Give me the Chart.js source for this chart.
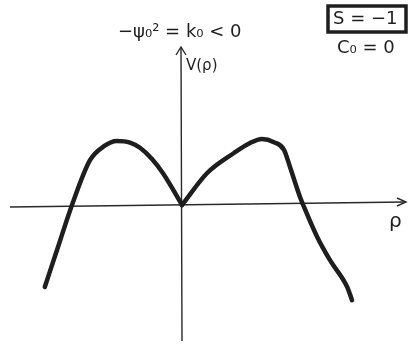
<!DOCTYPE html>
<html>
<head>
<meta charset="utf-8">
<script src="https://cdn.jsdelivr.net/npm/chart.js@4"></script>
<style>
  html, body { margin: 0; padding: 0; background: #fff; }
  #wrap { width: 412px; height: 345px; }
</style>
</head>
<body>
<div id="wrap"><canvas id="potential"></canvas></div>
<script>
// sketched potential V(rho), split at the cusp in rho = 0
const rhoLeft = [-3.43, -3.1, -2.75, -2.3, -1.95, -1.63, -1.3, -1.05, -0.75, -0.48, -0.22, 0];
const vLeft   = [-2.05, -1.05, 0, 1.12, 1.47, 1.6, 1.56, 1.43, 1.15, 0.8, 0.38, 0];
const rhoRight = [0, 0.63, 1.3, 1.7, 2.0, 2.3, 2.55, 2.7, 2.95, 3.03, 3.38, 3.7, 4.13, 4.25];
const vRight   = [0, 0.8, 1.3, 1.55, 1.65, 1.57, 1.38, 0.95, 0.2, 0, -0.8, -1.38, -2.05, -2.38];

// axis extents
const rhoAxis = [-4.3, 5.6];
const vAxis = [-3.4, 3.95];

const toPoints = (xs, ys) => xs.map((x, i) => ({ x: x, y: ys[i] }));

const ink = '#1e1e1e';

const sketchAxes = {
  id: 'sketchAxes',
  beforeDatasetsDraw(chart) {
    const c = chart.ctx;
    const x = chart.scales.x, y = chart.scales.y;
    const x0 = x.getPixelForValue(0), y0 = y.getPixelForValue(0);
    const xr = x.getPixelForValue(rhoAxis[1]), xl = x.getPixelForValue(rhoAxis[0]);
    const yt = y.getPixelForValue(vAxis[1]), yb = y.getPixelForValue(vAxis[0]);
    c.save();
    c.strokeStyle = '#2a2a2a';
    c.lineWidth = 1.4;
    c.beginPath();
    c.moveTo(xl, y0 + 2); c.lineTo(xr, y0 - 3);
    c.moveTo(x0 - 1, yt); c.lineTo(x0, yb);
    c.stroke();
    // arrow heads
    c.beginPath();
    c.moveTo(xr - 9, y0 - 7); c.lineTo(xr, y0 - 3); c.lineTo(xr - 9, y0 + 1);
    c.moveTo(x0 - 6, yt + 8); c.lineTo(x0 - 1, yt); c.lineTo(x0 + 4, yt + 8);
    c.stroke();
    c.restore();
  },
  afterDraw(chart) {
    const c = chart.ctx;
    c.save();
    c.fillStyle = ink;
    c.textBaseline = 'middle';
    c.font = '18px "DejaVu Sans"';
    c.fillText('\u2212\u03c8\u2080\u00b2 = k\u2080 < 0', 118, 32);
    c.font = '15px "DejaVu Sans"';
    c.fillText('V(\u03c1)', 186, 66);
    c.font = '20px "DejaVu Sans"';
    c.fillText('\u03c1', 389, 222);
    // boxed label
    c.font = '18px "DejaVu Sans"';
    c.fillText('S = \u22121', 333, 19);
    c.strokeStyle = ink;
    c.lineWidth = 3.5;
    c.strokeRect(328, 6, 78, 26);
    c.fillText('C\u2080 = 0', 337, 48);
    c.restore();
  }
};

new Chart(document.getElementById('potential'), {
  type: 'line',
  data: {
    datasets: [
      {
        data: toPoints(rhoLeft, vLeft),
        borderColor: ink,
        borderWidth: 4.5,
        pointRadius: 0,
        cubicInterpolationMode: 'monotone',
        borderCapStyle: 'round'
      },
      {
        data: toPoints(rhoRight, vRight),
        borderColor: ink,
        borderWidth: 4.5,
        pointRadius: 0,
        cubicInterpolationMode: 'monotone',
        borderCapStyle: 'round'
      }
    ]
  },
  options: {
    responsive: true,
    maintainAspectRatio: false,
    animation: false,
    layout: { padding: 0 },
    plugins: { legend: { display: false }, tooltip: { enabled: false } },
    scales: {
      x: { type: 'linear', display: false, min: -4.55, max: 5.75 },
      y: { type: 'linear', display: false, min: -3.5, max: 5.125 }
    }
  },
  plugins: [sketchAxes]
});
</script>
</body>
</html>
